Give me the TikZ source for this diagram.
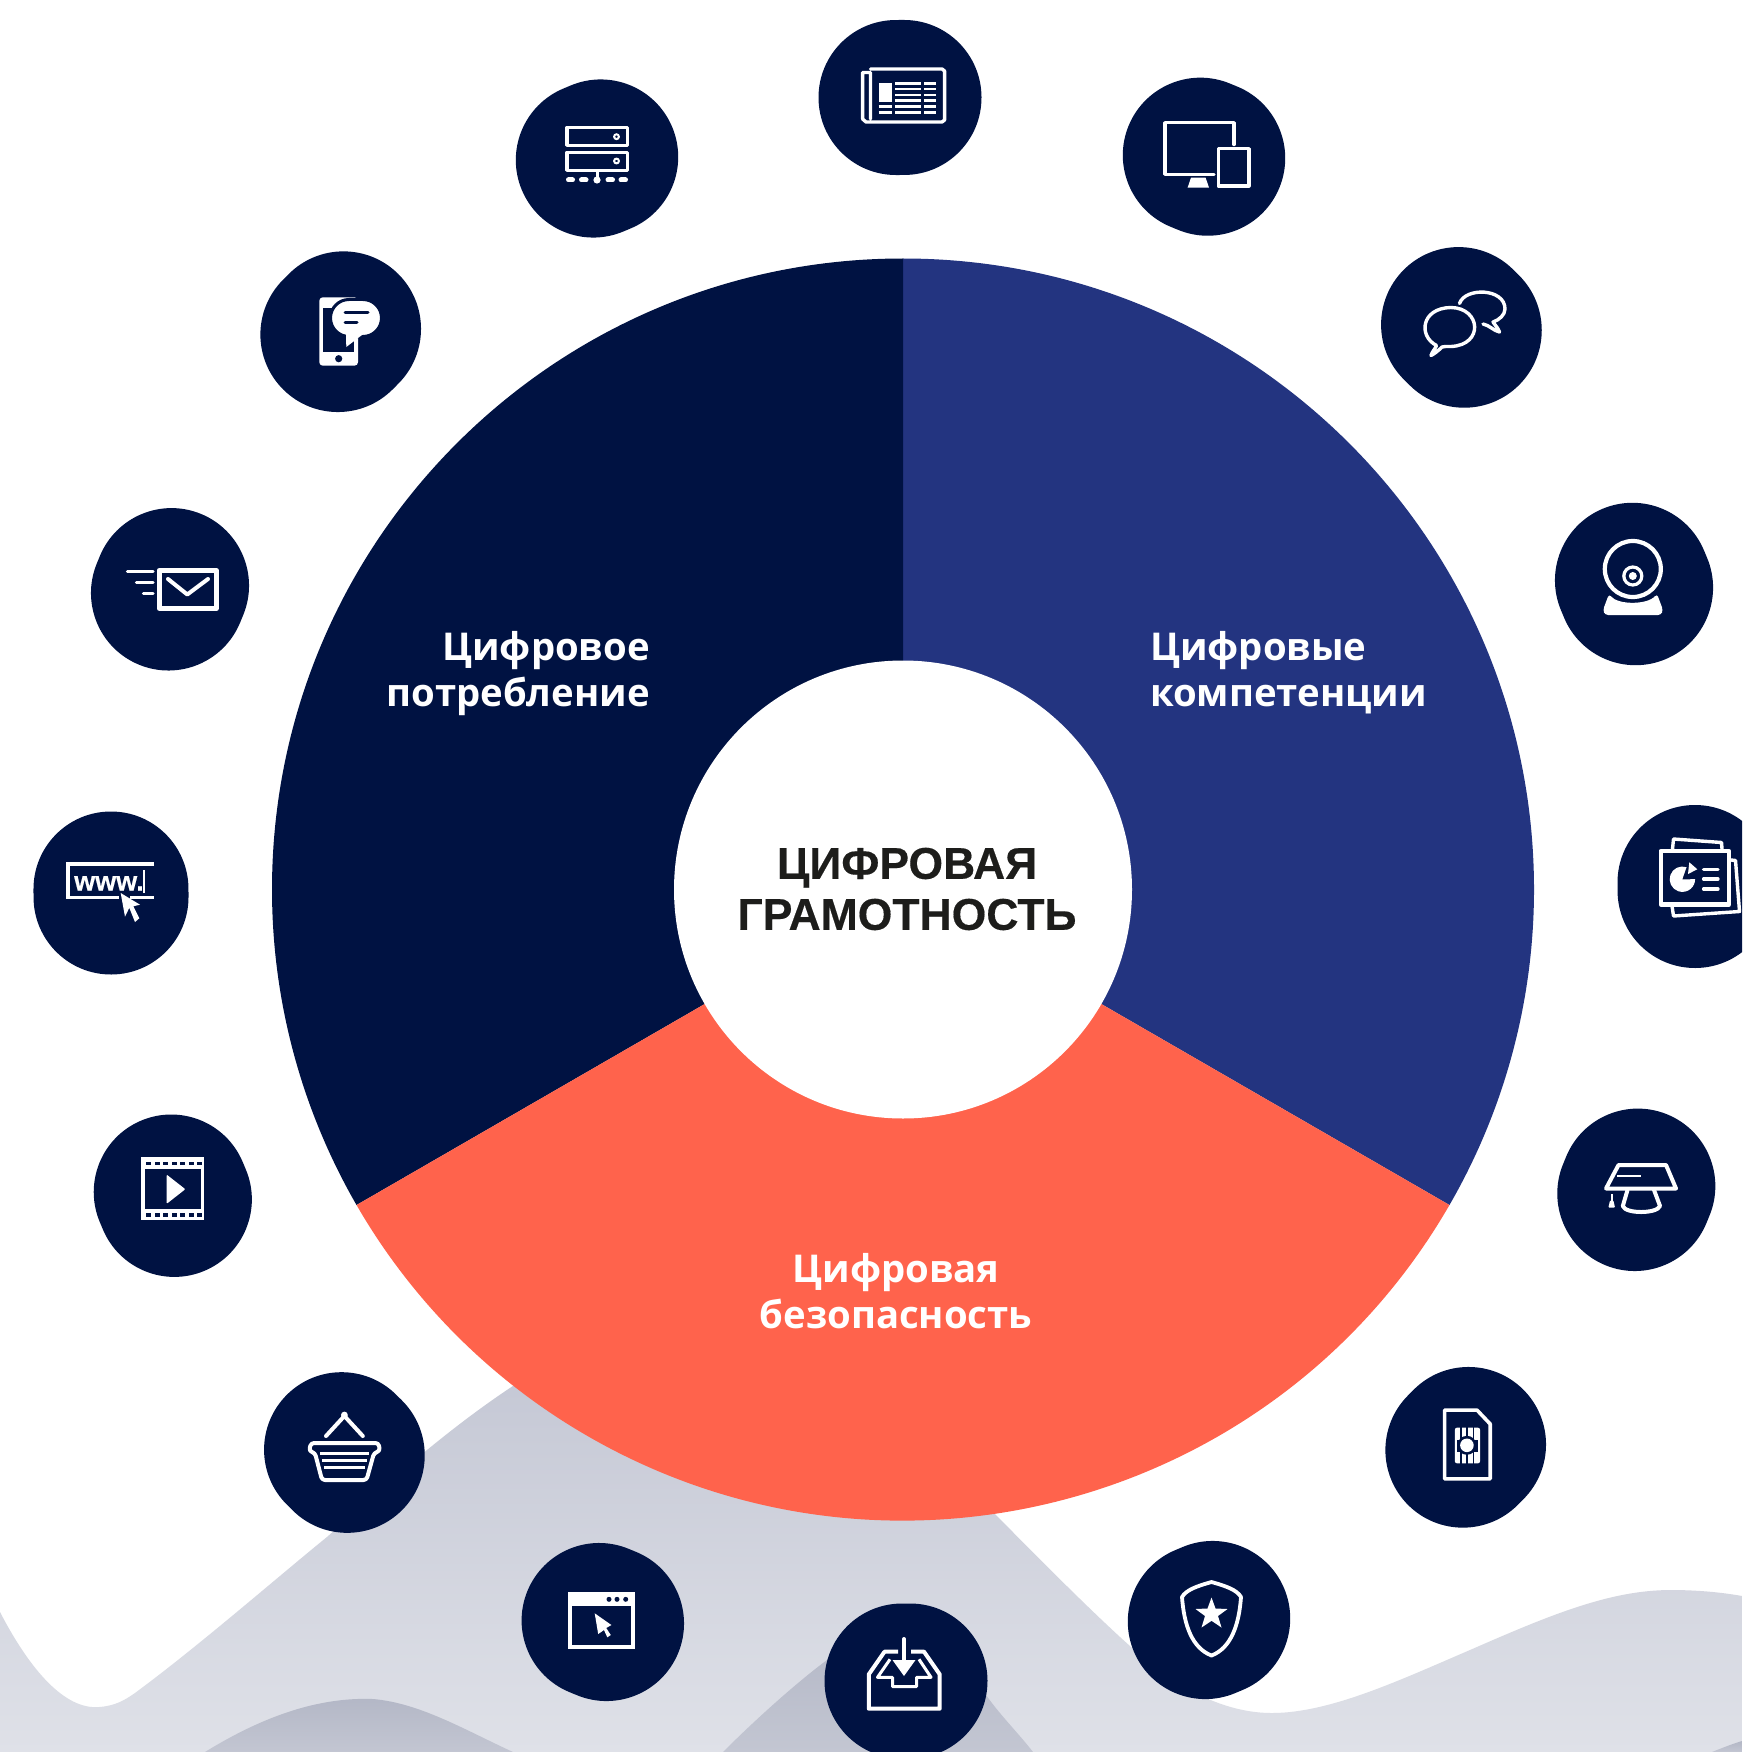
\documentclass[tikz,border=0pt]{standalone}
\usepackage{fontspec}
\setmainfont{Liberation Sans}
\newfontfamily\labfont{Open Sans}
\newfontfamily\titlefont{Liberation Sans}[BoldFeatures={FakeBold=0.35}]
\definecolor{navy}{HTML}{001242}
\definecolor{bluesec}{HTML}{233480}
\definecolor{redsec}{HTML}{FF634C}
\definecolor{inktitle}{HTML}{1D1D1B}
\definecolor{hilltop}{HTML}{C5C8D5}
\definecolor{hillbot}{HTML}{DFE1E8}
\definecolor{darkhilltop}{HTML}{B3B7C6}
\definecolor{darkhillbot}{HTML}{C3C6D2}
\tikzset{
  blobstyle/.style={draw=navy,line width=155pt,line cap=round},
  ic/.style={draw=white,line width=4pt,line join=round,line cap=round},
  icthin/.style={draw=white,line width=3.4pt,line join=round,line cap=round},
  icdarkline/.style={draw=navy,line width=3pt,line cap=round},
  seclabel/.style={text=white,font=\labfont\bfseries\fontsize{38.3}{46.5}\selectfont,inner sep=0pt},
  titlelabel/.style={text=inktitle,font=\titlefont\bfseries\fontsize{44.5}{51}\selectfont,inner sep=0pt,align=center},
}
\newcommand\blobat[2]{%
  \pgfmathsetmacro\blobL{veclen(#1-903,#2-889.5)}%
  \pgfmathsetmacro\bdx{-(#2-889.5)/\blobL*4}%
  \pgfmathsetmacro\bdy{(#1-903)/\blobL*4}%
  \draw[blobstyle] ({#1+\bdx},{#2+\bdy}) -- ({#1-\bdx},{#2-\bdy});}
\begin{document}
\begin{tikzpicture}[x=1pt,y=-1pt]
\useasboundingbox (0,0) rectangle (1742,1752);
\clip (0,0) rectangle (1742,1752);
\fill[white] (0,0) rectangle (1742,1752);
% ---------- background hills
\shade[top color=hilltop,bottom color=hillbot]
  (0,1752) -- (0,1612) .. controls (30,1670) and (65,1710) .. (99,1707)
  .. controls (115,1706) and (125,1700) .. (135,1693)
  .. controls (200,1645) and (280,1575) .. (327,1537)
  .. controls (380,1490) and (450,1425) .. (530,1375)
  -- (930,1440) -- (995,1514)
  .. controls (1060,1580) and (1130,1650) .. (1165,1675)
  .. controls (1205,1702) and (1240,1713) .. (1272,1713)
  .. controls (1330,1713) and (1400,1680) .. (1470,1650)
  .. controls (1550,1615) and (1610,1590) .. (1671,1590)
  .. controls (1695,1590) and (1720,1592) .. (1742,1596)
  -- (1742,1752) -- cycle;
\shade[top color=darkhilltop,bottom color=darkhillbot]
  (205,1752) .. controls (265,1715) and (320,1697) .. (373,1699)
  .. controls (420,1703) and (465,1730) .. (513,1752) -- cycle;
\shade[top color=darkhilltop,bottom color=darkhillbot]
  (723,1752) .. controls (760,1715) and (800,1680) .. (827,1660)
  .. controls (860,1640) and (890,1625) .. (905,1625)
  .. controls (930,1630) and (965,1665) .. (986,1695)
  .. controls (1000,1715) and (1020,1735) .. (1033,1752) -- cycle;
\shade[top color=darkhilltop,bottom color=darkhillbot]
  (1712,1752) .. controls (1722,1748) and (1732,1744) .. (1742,1741) -- (1742,1752) -- cycle;
% ---------- sectors
\fill[bluesec] (903,889.5) -- (903,258.5) arc[start angle=-90,end angle=30,radius=631] -- cycle;
\fill[navy] (903,889.5) -- (903,258.5) arc[start angle=-90,end angle=-210,radius=631] -- cycle;
\fill[redsec] (903,889.5) -- ({903+631*cos(30)},{889.5+631*sin(30)}) arc[start angle=30,end angle=150,radius=631] -- cycle;
\fill[white] (903,889.5) circle[radius=229];
% ---------- blobs
\blobat{900}{97.5}
\blobat{1204}{156.7}
\blobat{1461.4}{327.4}
\blobat{1634}{584}
\blobat{1695}{886.5}
\blobat{1636.3}{1189.8}
\blobat{1465.7}{1447.3}
\blobat{1209}{1620}
\blobat{906}{1681}
\blobat{602.8}{1622}
\blobat{344.4}{1452.5}
\blobat{172.8}{1195.7}
\blobat{111}{893}
\blobat{170}{589.3}
\blobat{340.7}{331.7}
\blobat{597}{158.5}
% ---------- newspaper
\draw[icthin] (870.5,69) -- (942,69) -- (944.6,71) -- (944.6,120) -- (942,122) -- (866,122) -- (862.6,119) -- (862.6,72.5) -- (870.5,72.5) -- (870.5,119);
\fill[white] (878.6,82.7) rectangle (892,102);
\foreach \yy in {83.3,89,95,100.7,106.7,112.3}{
  \draw[white,line width=2.6pt] (895,\yy) -- (920.5,\yy) (924,\yy) -- (936,\yy);}
\foreach \yy in {106.7,112.3}{\draw[white,line width=2.6pt] (878.6,\yy) -- (892,\yy);}
% ---------- server
\draw[icthin] (567,127.5) rectangle (627.4,145.3);
\draw[icthin] (567,152.3) rectangle (627.4,170.3);
\draw[white,line width=2pt] (616.5,136.7) circle[radius=2.4] (616.5,161) circle[radius=2.4];
\draw[white,line width=3pt] (597,171) -- (597,180);
\fill[white] (597,180) circle[radius=3.6];
\draw[white,line width=5pt,line cap=round] (568.5,180) -- (572.5,180) (581.5,180) -- (586,180) (608,180) -- (612.5,180) (621,180) -- (625.5,180);
% ---------- phone with bubble
\fill[white,rounded corners=3.5] (319.3,297.3) rectangle (358,365.7);
\fill[navy] (323.3,307.7) rectangle (354,351.7);
\fill[navy] (338.7,358.7) circle[radius=3.6];
\fill[white,draw=navy,line width=3pt] (349,299.5) -- (363,299.5) arc[start angle=-90,end angle=90,radius=18.5] -- (349,336.5) arc[start angle=90,end angle=270,radius=18.5] -- cycle;
\fill[white] (346.3,347) -- (346,333) -- (362,335) -- cycle;
\draw[icdarkline] (345,312.7) -- (368,312.7) (345,322.7) -- (357,322.7);
% ---------- mail
\draw[white,line width=4.8pt,line join=round] (159.1,570.3) rectangle (216.3,608.4);
\draw[white,line width=4pt,line cap=round,line join=round] (168,579) -- (187.3,594.5) -- (208,579);
\draw[white,line width=3.2pt,line cap=round] (127.5,571.5) -- (153,571.5) (136.5,582.5) -- (153,582.5) (143.5,593.5) -- (153,593.5);
% ---------- www
\draw[white,line width=3.6pt] (154,864.2) -- (67.8,864.2) -- (67.8,897.5) -- (119,897.5) (130,897.5) -- (154,897.5);
\node[name=wwwtext,anchor=base west,inner sep=0pt,text=white,font=\titlefont\bfseries\fontsize{27}{27}\selectfont] at (74,890.5) {www.};
\draw[white,line width=2.8pt] (144,870) -- (144,893);
\fill[white] (120.7,893) -- (125,916.7) -- (129.3,907.8) -- (135,922) -- (139.3,918.3) -- (133.3,906.3) -- (140,904.7) -- cycle;
% ---------- video
\fill[white] (141.3,1157.3) rectangle (204,1220);
\fill[navy] (145,1168.8) rectangle (200.5,1209);
\foreach \xx in {146,154.5,163,171.5,180,188.5,197}{
  \fill[navy] (\xx,1161.5) rectangle ++(5,3.5);
  \fill[navy] (\xx,1213) rectangle ++(5,3.5);}
\fill[white,rounded corners=1] (166.7,1174.6) -- (185.3,1189.2) -- (166.7,1203.8) -- cycle;
% ---------- basket
\draw[ic] (326,1436) -- (344.4,1416) -- (362.8,1436);
\fill[white] (344.4,1415) circle[radius=3.4];
\draw[ic,rounded corners=3] (311,1443) -- (378.5,1443) -- (380,1451) -- (374,1453) -- (366.5,1480) -- (322,1480) -- (315,1453) -- (309,1451) -- cycle;
\draw[white,line width=2.8pt] (320.3,1453.3) -- (369,1453.3) (322,1460.3) -- (366.8,1460.3) (323.8,1467.3) -- (364.5,1467.3);
% ---------- window
\draw[white,line width=4pt] (570.3,1594) rectangle (633,1647);
\fill[white] (568.3,1592.3) rectangle (635,1606);
\fill[navy] (609,1599.3) circle[radius=2.5] (617,1599.3) circle[radius=2.5] (625.7,1599.3) circle[radius=2.5];
\fill[white] (594.7,1613.3) -- (598.2,1634) -- (604,1630) -- (607.3,1637.3) -- (610.8,1635) -- (606.2,1628) -- (611.4,1625) -- cycle;
% ---------- inbox
\draw[white,line width=4pt,line join=round] (898,1651.7) -- (884.5,1651.7) -- (868.8,1674.3) -- (868.8,1708.7) -- (939.7,1708.7) -- (939.7,1674.3) -- (924,1651.7) -- (911,1651.7);
\draw[white,line width=3pt,line join=round] (890,1659.3) -- (877.5,1677.3) -- (892.5,1677.3) -- (892.5,1686.5) -- (916.5,1686.5) -- (916.5,1677.3) -- (931,1677.3) -- (919,1659.3);
\draw[white,line width=4pt,line cap=round] (904,1639) -- (904,1662);
\fill[white] (892.5,1660) -- (915.5,1660) -- (904,1676) -- cycle;
% ---------- shield
\draw[white,line width=3.8pt,line join=round] (1211.5,1582) .. controls (1197,1586) and (1186,1590) .. (1182,1597)
  .. controls (1184,1625) and (1192,1648) .. (1211.5,1655.5)
  .. controls (1231,1648) and (1239,1625) .. (1241,1597)
  .. controls (1237,1590) and (1226,1586) .. (1211.5,1582) -- cycle;
\begin{scope}[shift={(1211.5,1614)}]
\fill[white] (0,-16.5) -- (4,-5.5) -- (16,-5) -- (6.5,2) -- (10,13.5) -- (0,6.8) -- (-10,13.5) -- (-6.5,2) -- (-16,-5) -- (-4,-5.5) -- cycle;
\end{scope}
% ---------- sim
\draw[white,line width=3.6pt,line join=round] (1444.6,1410.1) -- (1477,1410.1) -- (1490.2,1424) -- (1490.2,1478.9) -- (1444.6,1478.9) -- cycle;
\fill[white,rounded corners=2] (1454.9,1427.7) rectangle (1480,1463.3);
\draw[navy,line width=1.6pt] (1461,1426) -- (1461,1439) (1467.2,1426) -- (1467.2,1438) (1473.5,1426) -- (1473.5,1439)
  (1461,1452) -- (1461,1465) (1467.2,1453) -- (1467.2,1465) (1473.5,1452) -- (1473.5,1465);
\fill[navy] (1457,1439.5) rectangle (1477.5,1451.5);
\fill[navy] (1466.9,1445.3) circle[radius=9.5];
\fill[white] (1466.9,1445.3) circle[radius=6.8];
\fill[white] (1454.9,1440) rectangle (1457,1451);
\fill[white] (1477.5,1440) rectangle (1480,1451);
% ---------- cap
\draw[ic] (1618.5,1165) -- (1666,1165) -- (1676,1188.5) -- (1606,1188.5) -- cycle;
\draw[white,line width=2.8pt] (1617,1176) -- (1640.7,1176);
\draw[ic] (1627.5,1190) -- (1622.8,1206) .. controls (1625,1214) and (1657,1214) .. (1660,1206) -- (1654,1190);
\draw[white,line width=2.4pt] (1611.7,1194.3) -- (1611.7,1202);
\fill[white,rounded corners=1] (1610,1200.5) -- (1613.4,1200.5) -- (1615,1207.7) -- (1608.3,1207.7) -- cycle;
% ---------- presentation
\draw[white,line width=4.4pt,line join=round] (1660.7,851.2) rectangle (1729,904.3);
\draw[icthin] (1672.5,849) -- (1673.5,839) -- (1721.5,842.5) -- (1722,849);
\draw[icthin] (1731,860) -- (1735.5,860.5) -- (1739.5,911.5) -- (1673.5,916) -- (1672,906);
\fill[white] (1682.3,879.3) -- (1686.5,867.2) arc[start angle=-71,end angle=-360,radius=12.7] -- cycle;
\fill[white] (1689.3,862.3) -- (1697.3,869.3) -- (1688,874) -- cycle;
\draw[white,line width=3.2pt,line cap=round] (1703.5,869.3) -- (1718,869.3) (1703.5,879) -- (1718,879) (1703.5,889) -- (1718,889);
% ---------- webcam
\draw[white,line width=4.2pt] (1632.8,569) circle[radius=28];
\draw[white,line width=3.2pt] (1632.8,576) circle[radius=9];
\fill[white] (1632.8,576) circle[radius=4];
\fill[white,rounded corners=3] (1609,594) .. controls (1618,605) and (1647,605) .. (1657,594) -- (1663,610) -- (1661,615) -- (1605,615) -- (1603,610) -- cycle;
% ---------- devices
\draw[icthin] (1234,144.5) -- (1234,122.7) -- (1164.8,122.7) -- (1164.8,174.3) -- (1214,174.3);
\fill[white] (1191,177.7) -- (1205.6,177.7) -- (1209,187.6) -- (1187.6,187.6) -- cycle;
\draw[icthin] (1218.2,148.7) rectangle (1248.9,186);
% ---------- chat
\draw[icthin] (1436.5,345.5) .. controls (1418,336) and (1421,308) .. (1451,307.5)
  .. controls (1481,308) and (1484,345) .. (1451,346.5)
  .. controls (1447,346.5) and (1444,346.3) .. (1442,347)
  .. controls (1438,351) and (1434,354) .. (1431,355.5)
  .. controls (1432,352) and (1435,349) .. (1436.5,345.5) -- cycle;
\draw[icthin] (1459.5,303.5) .. controls (1465,287) and (1505,288) .. (1505,309)
  .. controls (1505,315) and (1499,320) .. (1493,322)
  .. controls (1495,325) and (1498,328) .. (1499.5,332)
  .. controls (1494,331) and (1489,325) .. (1483,324);
% ---------- labels
\node[seclabel,name=labcons,align=right,anchor=north east] at (650,631) {Цифровое\\потребление};
\node[seclabel,name=labcomp,align=left,anchor=north west] at (1150,631) {Цифровые\\компетенции};
\node[seclabel,name=labsec,align=center,anchor=north] at (896,1253) {Цифровая\\безопасность};
\node[titlelabel,name=maintitle] at (907,889) {ЦИФРОВАЯ\\ГРАМОТНОСТЬ};
\end{tikzpicture}
\end{document}
